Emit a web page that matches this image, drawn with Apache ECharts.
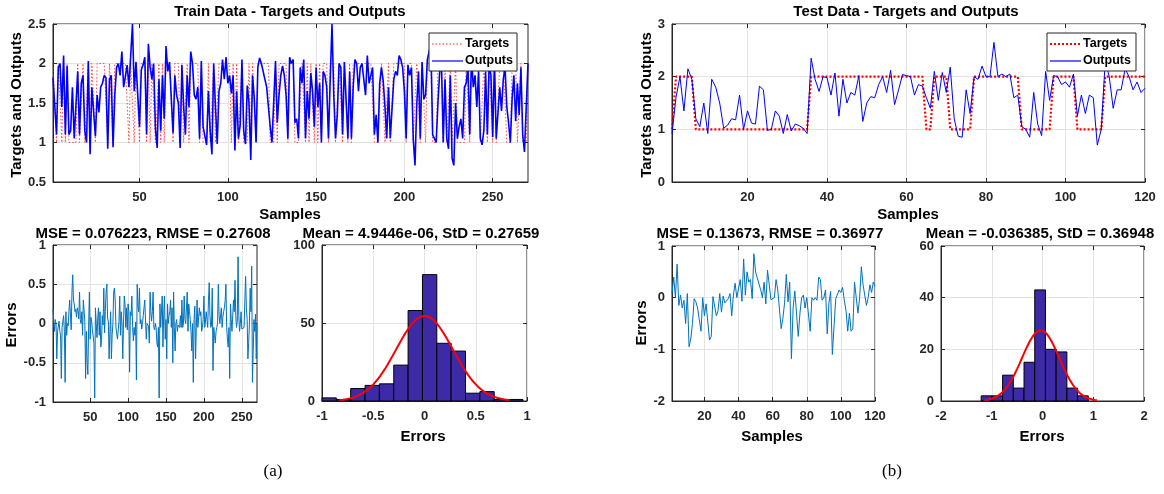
<!DOCTYPE html>
<html><head><meta charset="utf-8">
<script src="https://cdn.jsdelivr.net/npm/echarts@6/dist/echarts.min.js"></script>
<style>html,body{margin:0;padding:0;background:#fff}#c{width:1164px;height:494px}</style>
</head><body><div id="c"></div><script>
// ---------------- DATA ----------------
const trainOutputs = [
1.82,1.8,1.1,1.95,2.0,1.45,2.1,1.1,1.97,1.1,
1.15,1.7,1.05,1.05,1.9,1.1,1.75,1.85,1.15,1.0,
2.03,0.85,1.7,1.7,1.08,1.6,1.38,1.7,1.75,1.85,
1.82,0.92,1.8,1.85,0.94,1.6,1.95,2.0,1.85,2.15,
1.7,1.7,1.98,1.7,2.1,2.5,1.65,2.02,1.6,1.2,
1.92,1.98,2.08,1.1,2.25,1.95,1.8,2.0,1.18,0.93,
1.8,1.15,1.85,1.3,2.22,1.9,2.02,1.55,1.12,1.85,
1.6,1.5,0.93,1.98,1.45,1.1,1.85,1.45,2.15,2.0,
1.6,1.55,1.7,1.05,2.03,1.2,1.18,0.97,1.65,1.15,
0.85,2.0,1.45,0.98,1.65,1.75,2.05,1.8,2.08,1.75,
1.85,1.62,1.85,0.9,1.65,1.05,1.22,2.05,1.15,0.98,
1.72,1.5,0.78,1.85,1.55,1.0,1.95,2.07,2.0,1.9,
1.8,1.7,1.7,1.2,1.0,1.0,2.03,1.25,1.6,1.85,
1.97,1.85,1.6,1.05,2.08,2.0,2.05,1.25,1.3,1.05,
1.95,1.75,2.05,1.05,1.65,1.3,1.88,1.65,1.2,1.95,
1.45,1.75,1.0,1.9,1.85,1.7,1.05,1.8,2.5,1.6,
1.05,1.35,2.0,1.95,1.1,2.02,2.0,1.05,1.9,1.05,
1.7,2.05,2.0,1.65,1.95,2.0,1.8,1.6,2.1,1.75,
1.85,1.95,1.1,1.35,1.0,1.75,1.95,1.78,1.45,1.05,
1.7,1.05,1.05,1.8,1.9,1.85,2.1,2.05,1.95,1.65,
1.05,1.98,1.85,1.95,1.05,0.71,1.48,1.9,1.05,2.02,
1.55,1.6,2.05,2.15,2.25,1.1,1.05,1.0,1.5,1.9,
2.0,1.0,1.8,1.05,0.92,1.85,0.8,0.71,1.5,1.05,
1.2,1.3,1.05,1.7,1.75,1.95,1.1,2.1,1.7,1.85,
1.45,1.9,1.05,0.97,1.15,1.9,1.1,2.0,1.85,1.07,
2.05,1.05,1.05,1.7,1.4,1.8,1.95,1.45,1.25,1.0,
1.55,1.85,1.27,1.75,1.35,1.95,1.1,0.88,1.45,2.0];
const trainTargets = [
2,2,1,2,2,1,2,1,2,1,
1,1,1,1,2,1,1,2,1,1,
2,1,2,2,1,2,2,2,2,2,
2,1,2,2,1,2,2,2,2,2,
2,2,2,1,2,2,1,2,2,1,
2,2,2,1,2,1,2,2,1,1,
2,1,2,1,2,2,2,2,1,2,
2,2,1,2,1,1,2,1,2,2,
2,2,2,1,2,1,1,1,2,1,
1,2,1,1,2,2,2,2,2,2,
2,1,2,1,2,1,1,2,1,1,
1,2,1,2,2,1,2,2,2,2,
2,2,2,1,1,1,2,1,2,2,
2,2,2,1,2,2,2,1,1,1,
1,2,2,1,2,1,2,2,1,2,
1,2,1,2,2,2,1,2,2,2,
1,1,2,2,1,2,2,1,2,1,
2,2,2,2,2,2,2,2,2,2,
2,2,1,1,1,1,2,2,1,1,
2,1,1,2,2,2,2,2,2,2,
1,2,2,2,1,1,2,2,1,2,
2,1,2,2,2,1,1,1,2,2,
2,1,2,1,1,2,1,1,2,1,
1,1,1,1,2,2,1,2,2,2,
2,2,1,1,2,2,1,2,2,1,
2,1,1,2,2,2,2,1,1,1,
2,2,2,1,1,2,1,1,1,2];
const testTargets = [
1,2,2,2,2,2,1,1,1,1,
1,1,1,1,1,1,1,1,1,1,
1,1,1,1,1,1,1,1,1,1,
1,1,1,1,1,2,2,2,2,2,
2,2,2,2,2,2,2,2,2,2,
2,2,2,2,2,2,2,2,2,2,
2,2,2,2,1,1,2,2,2,2,
1,1,1,1,1,1,2,2,2,2,
2,2,2,2,2,2,2,2,1,1,
1,1,1,1,1,1,2,2,2,2,
2,2,1,1,1,1,1,1,1,2,
2,2,2,2,2,2,2,2,2,2];
const testOutputs = [
0.92,1.6,2.0,1.35,2.15,1.95,1.2,1.05,1.5,0.92,
1.95,1.8,1.5,1.02,1.08,1.2,1.18,1.65,1.0,1.35,
1.12,1.1,1.82,1.75,0.98,1.0,1.35,1.25,0.92,1.28,
0.97,1.1,1.07,1.02,0.92,2.35,1.95,1.72,2.0,1.98,
1.65,2.07,1.25,1.95,1.5,1.7,1.65,2.02,1.15,1.5,
1.62,1.6,1.85,2.0,1.7,2.12,1.47,1.75,2.04,2.02,
2.0,1.65,1.85,1.82,1.6,1.4,2.1,1.55,2.08,1.7,
2.18,1.2,0.87,0.85,1.75,1.3,2.0,1.95,2.2,2.0,
2.0,2.65,2.0,2.05,2.0,2.05,1.6,1.65,1.05,1.0,
0.85,1.7,1.1,0.88,2.1,1.55,2.02,2.0,1.85,1.9,
1.8,2.05,1.25,1.65,1.3,1.65,1.6,0.7,1.0,2.3,
2.0,1.4,1.75,1.75,2.15,2.0,1.75,1.9,1.7,1.78];

const trainHistStart = -1.0;
const trainHistWidth = 0.14;
const trainHistCounts = [2,1,8,10,11,23,58,81,37,32,5,6,1,1];
const testHistStart = -1.208;
const testHistWidth = 0.211;
const testHistCounts = [2,2,10,5,15,43,20,19,5,2];

const trainMSE = '0.076223', trainRMSE = '0.27608';
const trainMean = 4.9446e-06, trainStd = 0.27659;
const testMSE = '0.13673', testRMSE = '0.36977';
const testMean = -0.036385, testStd = 0.36948;

const trainSampleTicks = [50,100,150,200,250];
const testSampleTicks = [20,40,60,80,100,120];

// ---------------- HELPERS ----------------
const FONT = '"Liberation Sans", Arial, sans-serif';
const AX = '#262626';
const GRIDC = '#e3e3e3';

const xy = (arr) => arr.map((v, i) => [i + 1, v]);
const errs = (t, o) => t.map((v, i) => [i + 1, +(v - o[i]).toFixed(4)]);
const bins = (start, w, counts) => counts.map((c, i) => [start + i * w, start + (i + 1) * w, c]);
function gauss(mu, sd, n, bw) {
  const pts = [];
  for (let k = 0; k <= 100; k++) {
    const x = mu - 3 * sd + 6 * sd * k / 100;
    pts.push([x, n * bw / (sd * Math.sqrt(2 * Math.PI)) * Math.exp(-0.5 * ((x - mu) / sd) ** 2)]);
  }
  return pts;
}

const grids = [
  {left: 53, top: 24, width: 475, height: 158},
  {left: 672, top: 24, width: 473, height: 158},
  {left: 53, top: 245, width: 204, height: 157},
  {left: 322, top: 245, width: 205, height: 156},
  {left: 672, top: 246, width: 203, height: 155},
  {left: 941, top: 246, width: 203, height: 155}
].map(g => Object.assign({show: true, borderColor: AX, borderWidth: 1, backgroundColor: '#fff', containLabel: false}, g));

const xAxes = [], yAxes = [];
function addAxes(gi, xs, ys) {
  const lab = {color: AX, fontFamily: FONT, fontWeight: 'bold', fontSize: 13};
  const mk = (spec, pos, isX, main) => {
    const a = {type: 'value', gridIndex: gi, position: pos, min: spec.min, max: spec.max,
      axisLine: {show: main, onZero: false, lineStyle: {color: AX, width: 1}},
      axisTick: {show: true, inside: true, length: 4, lineStyle: {color: AX}},
      axisLabel: Object.assign({show: main, margin: isX ? 9 : 7}, lab),
      splitLine: {show: main, lineStyle: {color: GRIDC, width: 1}}};
    if (spec.ticks) {
      a.axisTick.customValues = spec.ticks;
      a.axisLabel.customValues = spec.ticks;
    } else {
      a.interval = spec.interval;
    }
    return a;
  };
  xAxes.push(mk(xs, 'bottom', true, true));
  const xi = xAxes.length - 1;
  xAxes.push(mk(xs, 'top', true, false));
  yAxes.push(mk(ys, 'left', false, true));
  const yi = yAxes.length - 1;
  yAxes.push(mk(ys, 'right', false, false));
  return {xAxisIndex: xi, yAxisIndex: yi};
}

const A0 = addAxes(0, {min: 1, max: 270, ticks: trainSampleTicks}, {min: 0.5, max: 2.5, interval: 0.5});
const A1 = addAxes(1, {min: 1, max: 120, ticks: testSampleTicks}, {min: 0, max: 3, interval: 1});
const A2 = addAxes(2, {min: 1, max: 270, ticks: trainSampleTicks}, {min: -1, max: 1, interval: 0.5});
const A3 = addAxes(3, {min: -1, max: 1, interval: 0.5}, {min: 0, max: 100, interval: 50});
const A4 = addAxes(4, {min: 1, max: 120, ticks: testSampleTicks}, {min: -2, max: 1, interval: 1});
const A5 = addAxes(5, {min: -2, max: 2, interval: 1}, {min: 0, max: 60, interval: 20});

const histRender = (params, api) => {
  const p0 = api.coord([api.value(0), api.value(2)]);
  const p1 = api.coord([api.value(1), 0]);
  return {type: 'rect', shape: {x: p0[0], y: p0[1], width: p1[0] - p0[0], height: p1[1] - p0[1]},
    style: {fill: '#3d2aa6', stroke: '#000', lineWidth: 1}};
};

const line = (ax, data, color, width, type, extra) => Object.assign({
  type: 'line', xAxisIndex: ax.xAxisIndex, yAxisIndex: ax.yAxisIndex, data,
  showSymbol: false, symbol: 'none', animation: false, clip: true,
  lineStyle: {color, width, type}, itemStyle: {color}}, extra || {});

const series = [
  line(A0, xy(trainTargets), '#ff2020', 1, [1.5, 2], {lineStyle: {color: '#ff2020', width: 1, type: [1.5, 2], opacity: 0.8}}),
  line(A0, xy(trainOutputs), '#0000ff', 1.6, 'solid'),
  line(A1, xy(testTargets), '#ff0000', 2.2, [2, 2]),
  line(A1, xy(testOutputs), '#0000ff', 1, 'solid'),
  line(A2, errs(trainTargets, trainOutputs), '#0072bd', 1, 'solid'),
  {type: 'custom', xAxisIndex: A3.xAxisIndex, yAxisIndex: A3.yAxisIndex, renderItem: histRender,
    encode: {x: [0, 1], y: 2}, data: bins(trainHistStart, trainHistWidth, trainHistCounts), animation: false},
  line(A3, gauss(trainMean, trainStd, 270, trainHistWidth), '#ff0000', 2, 'solid'),
  line(A4, errs(testTargets, testOutputs), '#0072bd', 1, 'solid'),
  {type: 'custom', xAxisIndex: A5.xAxisIndex, yAxisIndex: A5.yAxisIndex, renderItem: histRender,
    encode: {x: [0, 1], y: 2}, data: bins(testHistStart, testHistWidth, testHistCounts), animation: false},
  line(A5, gauss(testMean, testStd, 120, testHistWidth), '#ff0000', 2, 'solid')
];

const txt = (text, x, y, size, opts) => Object.assign({
  type: 'text', x, y, z: 100,
  style: {text, align: 'center', verticalAlign: 'middle', fill: '#000',
    font: 'bold ' + size + 'px ' + FONT}}, opts || {});
const vtxt = (text, x, y, size) => txt(text, x, y, size, {rotation: Math.PI / 2});

function legend(x, y, w, h, tColor, tWidth, tDash) {
  return [
    {type: 'rect', z: 100, shape: {x, y, width: w, height: h}, style: {fill: '#fff', stroke: AX, lineWidth: 1}},
    {type: 'line', z: 101, shape: {x1: x + 3, y1: y + 11, x2: x + 34, y2: y + 11}, style: {stroke: tColor, lineWidth: tWidth, lineDash: tDash}},
    {type: 'line', z: 101, shape: {x1: x + 3, y1: y + 28, x2: x + 34, y2: y + 28}, style: {stroke: '#0000ff', lineWidth: 1.2}},
    {type: 'text', z: 101, x: x + 36, y: y + 11, style: {text: 'Targets', align: 'left', verticalAlign: 'middle', fill: '#000', font: 'bold 12.5px ' + FONT}},
    {type: 'text', z: 101, x: x + 36, y: y + 28, style: {text: 'Outputs', align: 'left', verticalAlign: 'middle', fill: '#000', font: 'bold 12.5px ' + FONT}}
  ];
}

const graphics = [
  txt('Train Data - Targets and Outputs', 290, 12, 15),
  txt('Test Data - Targets and Outputs', 906, 12, 15),
  txt('Samples', 290, 215, 15),
  txt('Samples', 908, 215, 15),
  vtxt('Targets and Outputs', 17, 105, 15),
  vtxt('Targets and Outputs', 647, 105, 15),
  txt('MSE = ' + trainMSE + ', RMSE = ' + trainRMSE, 153, 234, 15),
  txt('Mean = 4.9446e-06, StD = ' + trainStd, 421, 234, 15),
  txt('MSE = ' + testMSE + ', RMSE = ' + testRMSE, 770, 234, 15),
  txt('Mean = ' + testMean + ', StD = ' + testStd, 1040, 234, 15),
  vtxt('Errors', 12, 325, 15),
  vtxt('Errors', 642, 323, 15),
  txt('Errors', 423, 437, 15),
  txt('Samples', 772, 437, 15),
  txt('Errors', 1042, 437, 15),
  {type: 'text', x: 273, y: 472, z: 100, style: {text: '(a)', align: 'center', verticalAlign: 'middle', fill: '#000', font: '17px "Liberation Serif", "Times New Roman", serif'}},
  {type: 'text', x: 892, y: 472, z: 100, style: {text: '(b)', align: 'center', verticalAlign: 'middle', fill: '#000', font: '17px "Liberation Serif", "Times New Roman", serif'}}
].concat(legend(429, 33, 88, 38, '#ff2020', 1, [1.5, 2]))
 .concat(legend(1047, 33, 89, 38, '#ff0000', 2.2, [2, 2]));

const chart = echarts.init(document.getElementById('c'), null, {renderer: 'canvas'});
chart.setOption({
  animation: false,
  backgroundColor: '#fff',
  grid: grids,
  xAxis: xAxes,
  yAxis: yAxes,
  series,
  graphic: graphics
});
</script></body></html>
